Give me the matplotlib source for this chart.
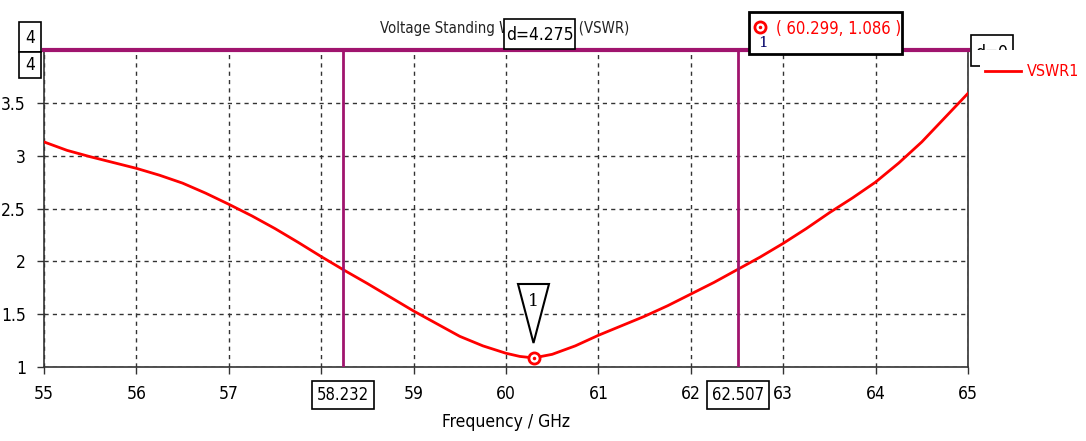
import matplotlib
matplotlib.use("Agg")
import matplotlib.pyplot as plt
from matplotlib.patches import Polygon, Rectangle

freq = [55.0, 55.25, 55.5, 55.75, 56.0, 56.25, 56.5, 56.75, 57.0, 57.25, 57.5, 57.75,
        58.0, 58.25, 58.5, 58.75, 59.0, 59.25, 59.5, 59.75, 60.0, 60.15, 60.299,
        60.5, 60.75, 61.0, 61.25, 61.5, 61.75, 62.0, 62.25, 62.5, 62.75, 63.0,
        63.25, 63.5, 63.75, 64.0, 64.25, 64.5, 64.75, 65.0]
vswr = [3.13, 3.05, 2.99, 2.935, 2.88, 2.815, 2.74, 2.645, 2.54, 2.43, 2.31, 2.18,
        2.045, 1.915, 1.79, 1.66, 1.53, 1.41, 1.29, 1.20, 1.13, 1.10, 1.086,
        1.12, 1.20, 1.30, 1.39, 1.48, 1.58, 1.69, 1.80, 1.92, 2.04, 2.17,
        2.31, 2.46, 2.60, 2.75, 2.93, 3.13, 3.36, 3.59]
xticks = [55, 56, 57, 58, 59, 60, 61, 62, 63, 64, 65]
yticks = [1, 1.5, 2, 2.5, 3, 3.5]
ytick_labels = ["1", "1.5", "2", "2.5", "3", "3.5"]
marker_x = [58.232, 62.507]
marker_y = 4.0
min_point = (60.299, 1.086)
delta_label = "d=4.275"
title = "Voltage Standing Wave Ratio (VSWR)"

purple = "#A0146E"
red = "#FF0000"
plt.rcParams['font.family'] = ['DejaVu Sans']
FS = 12.5
W, H = 1086, 441


def fx(px):
    return px / W


def fy(py):
    return 1 - py / H


def frect(x0, y0, x1, y1, **kw):
    r = Rectangle((fx(x0), fy(y1)), fx(x1) - fx(x0), fy(y0) - fy(y1),
                  transform=fig.transFigure, **kw)
    fig.patches.append(r)
    return r


fig = plt.figure(figsize=(10.86, 4.41), dpi=100)
ax = fig.add_axes([fx(44), fy(367), fx(968) - fx(44), fy(50) - fy(367)])
ax.set_xlim(55, 65)
ax.set_ylim(1, 4)
ax.plot(freq, vswr, color=red, lw=2, zorder=3)
ax.set_xticks(xticks)
ax.set_xticklabels([str(t) for t in xticks], fontsize=FS, fontstretch='condensed')
ax.set_yticks(yticks)
ax.set_yticklabels(ytick_labels, fontsize=FS, fontstretch='condensed')
ax.tick_params(direction='out', length=5, width=1, color='#333333', pad=8)
ax.grid(True, color='#333333', linestyle=(0, (3, 3)), lw=1)
for s in ax.spines.values():
    s.set_color('#333333')
    s.set_linewidth(1.2)
ax.set_xlabel("Frequency / GHz", fontsize=FS, fontstretch='condensed', labelpad=7)
# tick label hidden behind the marker box in the reference
for lab, t in zip(ax.get_xticklabels(), xticks):
    if abs(t - marker_x[0]) < 0.5:
        lab.set_visible(False)

# markers
for mx in marker_x:
    ax.axvline(mx, color=purple, lw=2, zorder=4)
ax.axhline(marker_y, color=purple, lw=3, zorder=4, clip_on=False)

box = dict(boxstyle='square,pad=0.3', fc='white', ec='black', lw=1.2)
for mx in marker_x:
    ax.annotate(f"{mx:.3f}", xy=(mx, 1), xycoords='data', xytext=(0, -20),
                textcoords='offset points', ha='center', va='center',
                fontsize=FS - 0.5, fontstretch='condensed', bbox=box, zorder=6,
                annotation_clip=False)

# y boxes "4"
frect(19, 22, 41, 52, fc='white', ec='black', lw=1.2, zorder=5)
frect(19, 52, 41, 78, fc='white', ec='black', lw=1.2, zorder=5)
fig.text(fx(30), fy(38), "4", ha='center', va='center', fontsize=FS, fontstretch='condensed', zorder=6)
fig.text(fx(30), fy(65), "4", ha='center', va='center', fontsize=FS, fontstretch='condensed', zorder=6)

# title (partly covered by delta box, as in the reference)
t = fig.text(fx(380), fy(28), title, ha='left', va='center',
             fontsize=FS, fontstretch='condensed', color='#222222', zorder=1)
fig.canvas.draw()
wpx = t.get_window_extent().width
t.set_fontsize(FS * 250 / wpx)
frect(504, 19, 575, 49, fc='white', ec='black', lw=1.2, zorder=10)
fig.text(fx(540), fy(35), delta_label, ha='center', va='center', fontsize=FS,
         fontstretch='condensed', zorder=11)

# marker info box
frect(749, 12, 902, 54, fc='white', ec='black', lw=2, zorder=10)
fig.text(fx(839), fy(29), f"( {min_point[0]:.3f}, {min_point[1]:.3f} )", ha='center', va='center',
         fontsize=FS - 0.5, color=red, fontstretch='condensed', zorder=11)
fig.lines.append(plt.Line2D([fx(760)], [fy(27)], marker='o', ms=8, mfc='white', mec=red, mew=2,
                            transform=fig.transFigure, zorder=11))
fig.lines.append(plt.Line2D([fx(760)], [fy(27)], marker='.', ms=3, color=red,
                            transform=fig.transFigure, zorder=12))
fig.text(fx(763), fy(43), "1", ha='center', va='center', fontsize=FS - 1.5, color='#000066',
         zorder=12, family='DejaVu Serif')

# d=0 box, partially hidden
frect(971, 35, 1013, 66, fc='white', ec='black', lw=1.2, zorder=1)
fig.text(fx(992), fy(53), "d=0", ha='center', va='center', fontsize=FS, fontstretch='condensed', zorder=2)
frect(973, 50, 1086, 64, fc='white', ec='none', zorder=3)
frect(980, 64, 1086, 68, fc='white', ec='none', zorder=3)

# min marker
ax.plot([min_point[0]], [min_point[1]], 'o', ms=8, mfc='white', mec=red, mew=2, zorder=7)
ax.plot([min_point[0]], [min_point[1]], '.', ms=3, color=red, zorder=8)
# triangle marker
tri = Polygon([(fx(518), fy(284)), (fx(549), fy(284)), (fx(533.5), fy(343))],
              closed=True, transform=fig.transFigure, fc='white', ec='black', lw=1.5, zorder=9)
fig.patches.append(tri)
fig.text(fx(533), fy(301), "1", ha='center', va='center', fontsize=FS, family='DejaVu Serif', zorder=10)

# legend
fig.lines.append(plt.Line2D([fx(985), fx(1021)], [fy(71), fy(71)], transform=fig.transFigure,
                            color=red, lw=2, zorder=5))
fig.text(fx(1027), fy(71), "VSWR1", ha='left', va='center', fontsize=FS - 1, color=red,
         fontstretch='condensed', zorder=5)

fig.savefig("out.png", dpi=100)
